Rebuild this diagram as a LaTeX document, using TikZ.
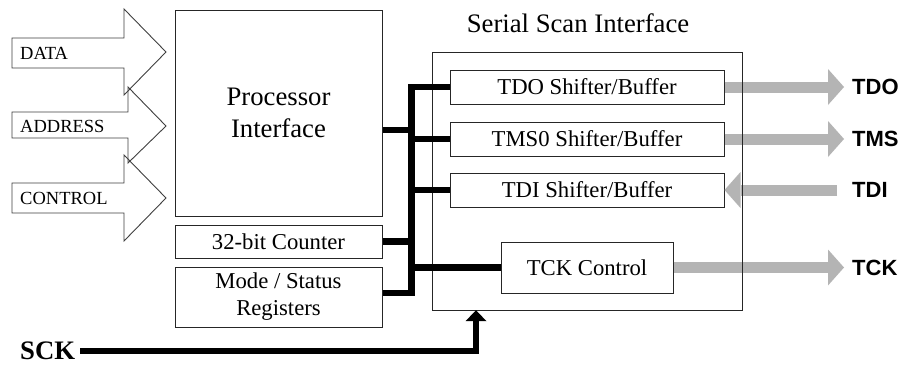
\documentclass[tikz,border=0pt]{standalone}
\usepackage{fontspec}
\setmainfont{Liberation Serif}
\newfontfamily\labelsans{Liberation Sans}
\usetikzlibrary{arrows.meta,calc}
\definecolor{boxline}{HTML}{262626}
\definecolor{arrowgray}{HTML}{B4B4B4}
\definecolor{inline}{HTML}{404040}
\begin{document}
\begin{tikzpicture}[x=1pt,y=-1pt,
  blk/.style={draw=boxline, line width=1pt, inner sep=0pt, align=center,
    font=\fontsize{22.7}{27}\selectfont},
  inarrow/.style={draw=inline, line width=0.9pt, line join=miter},
  inlabel/.style={anchor=west, inner sep=0pt, font=\fontsize{18.5}{22}\selectfont},
  outlabel/.style={anchor=west, inner sep=0pt, font=\labelsans\bfseries\fontsize{22}{26}\selectfont},
  bus/.style={draw=black, line width=6.5pt, line join=miter},
  garrow/.style={draw=arrowgray, line width=11pt,
    -{Triangle[width=36pt,length=16pt,line width=0pt]}}]
\fill[white] (0,0) rectangle (904,364);
\useasboundingbox (0,0) rectangle (904,364);

% input arrows
\draw[inarrow] (12,38) -- (124,38) -- (124,9) -- (166,52) -- (124,95) -- (124,68) -- (12,68) -- cycle;
\draw[inarrow] (12,112) -- (128,112) -- (128,87) -- (166,126) -- (128,163) -- (128,138) -- (12,138) -- cycle;
\draw[inarrow] (12,183) -- (124,183) -- (124,155) -- (166,198) -- (124,241) -- (124,213) -- (12,213) -- cycle;
\node[inlabel] (datal) at (20,53) {DATA};
\node[inlabel] (addrl) at (20,126.5) {ADDRESS};
\node[inlabel] (ctrll) at (20,198) {CONTROL};

% left blocks
\node[blk, minimum width=207pt, minimum height=206pt, font=\fontsize{26.7}{32}\selectfont] (proc) at (278.5,113) {Processor\\Interface};
\node[blk, minimum width=207pt, minimum height=33pt] (counter) at (278.5,241.5) {32-bit Counter};
\node[blk, minimum width=207pt, minimum height=60pt] (mode) at (278.5,297) {Mode / Status\\Registers};

% serial scan interface
\node[minimum width=309pt, minimum height=257pt, inner sep=0pt] (serial) at (587.5,181.5) {};
\node[inner sep=0pt, font=\fontsize{26.7}{32}\selectfont] (title) at (578,23.5) {Serial Scan Interface};
\node[blk, minimum width=274pt, minimum height=34pt] (tdo) at (587,87) {TDO Shifter/Buffer};
\node[blk, minimum width=274pt, minimum height=34pt] (tms) at (587,139) {TMS0 Shifter/Buffer};
\node[blk, minimum width=274pt, minimum height=34pt] (tdi) at (587,190) {TDI Shifter/Buffer};
\node[blk, minimum width=172pt, minimum height=51pt] (tck) at (587,267.5) {TCK Control};

% output labels
\node[outlabel] (tdol) at (852,87) {TDO};
\node[outlabel] (tmsl) at (852,139) {TMS};
\node[outlabel] (tdil) at (852,190) {TDI};
\node[outlabel] (tckl) at (852,267.5) {TCK};

% gray arrows
\draw[garrow] (tdo.east) -- ($(tdol.west)+(-8,0)$);
\draw[garrow] (tms.east) -- ($(tmsl.west)+(-8,0)$);
\draw[garrow] ($(tdil.west)+(-15,0)$) -- (tdi.east);
\draw[garrow] (tck.east) -- ($(tckl.west)+(-8,0)$);

% serial box outline on top
\draw[draw=boxline, line width=1pt] (serial.north west) rectangle (serial.south east);

% bus
\coordinate (busx) at (411,0);
\draw[bus] (tdo.west) -| ($(mode.east)+(29,-4)$) -- ($(mode.east)+(0,-4)$);
\draw[bus] (tms.west) -- (tms.west -| busx);
\draw[bus] (tdi.west) -- (tdi.west -| busx);
\draw[bus] (tck.west) -- (tck.west -| busx);
\draw[bus] ($(proc.east)+(0,17)$) -- ($(proc.east -| busx)+(0,17)$);
\draw[bus] (counter.east) -- (counter.east -| busx);

% SCK
\node[anchor=west, inner sep=0pt, font=\bfseries\fontsize{26.7}{32}\selectfont] (sck) at (20,351) {SCK};
\coordinate (sckx) at (476,0);
\draw[bus, -{Triangle[width=21pt,length=11pt,line width=0pt]}] ($(sck.east)+(5,0)$) -| (serial.south -| sckx);
\end{tikzpicture}
\end{document}
